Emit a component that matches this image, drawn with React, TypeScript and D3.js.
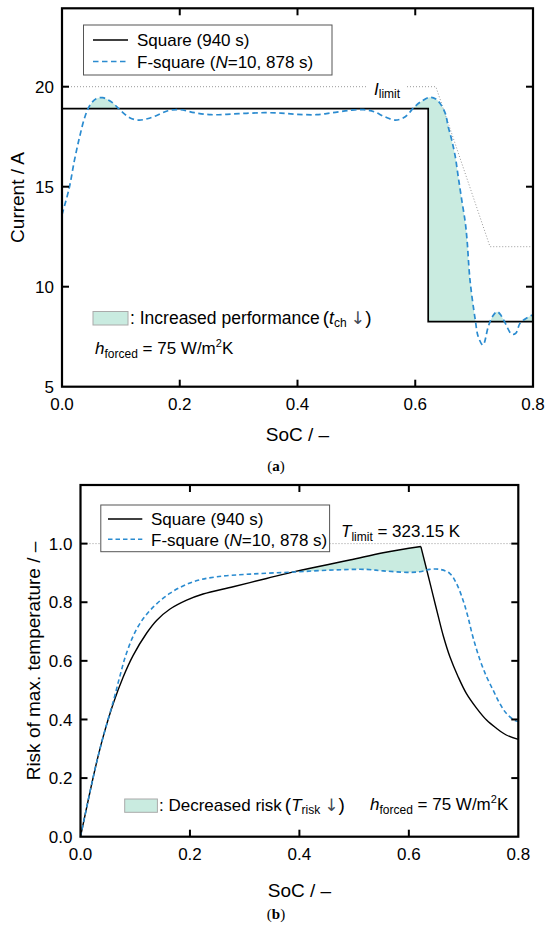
import React from 'react';
import * as d3 from 'd3';

// shared x axis
const socTicks = [0, 0.2, 0.4, 0.6, 0.8];

// (a) current vs SoC
const currentTicks = [5, 10, 15, 20];
const squareSocA = [0, 0.622, 0.622, 0.8];
const squareCurrent = [18.9, 18.9, 8.25, 8.25];
const fSquareSocA = [0, 0.012, 0.021, 0.03, 0.039, 0.048, 0.058, 0.069, 0.078, 0.087, 0.1, 0.115, 0.13, 0.145, 0.16, 0.18, 0.2, 0.225, 0.253, 0.28, 0.313, 0.345, 0.372, 0.4, 0.432, 0.46, 0.49, 0.512, 0.53, 0.548, 0.566, 0.583, 0.599, 0.612, 0.625, 0.635, 0.642, 0.651, 0.656, 0.662, 0.668, 0.673, 0.679, 0.685, 0.688, 0.693, 0.702, 0.707, 0.715, 0.724, 0.731, 0.739, 0.746, 0.753, 0.764, 0.771, 0.778, 0.79, 0.8];
const fSquareCurrent = [13.6, 14.9, 16.3, 17.5, 18.5, 19.1, 19.4, 19.45, 19.35, 19.17, 18.8, 18.45, 18.33, 18.4, 18.55, 18.8, 18.85, 18.7, 18.6, 18.62, 18.67, 18.7, 18.68, 18.62, 18.6, 18.7, 18.82, 18.85, 18.75, 18.5, 18.33, 18.5, 19.0, 19.3, 19.47, 19.38, 19.17, 18.67, 18.0, 17.33, 16.5, 15.5, 14.33, 13.2, 12.33, 10.33, 8.33, 7.5, 7.08, 8.0, 8.5, 8.75, 8.55, 8.17, 7.62, 7.68, 8.17, 8.45, 8.6];
const limitSoc = [0, 0.635, 0.727, 0.8];
const limitCurrent = [20, 20, 12, 12];

// (b) risk of max. temperature vs SoC
const riskTicks = [0, 0.2, 0.4, 0.6, 0.8, 1.0];
const squareSocB = [0, 0.017, 0.03, 0.042, 0.06, 0.078, 0.096, 0.121, 0.139, 0.163, 0.194, 0.224, 0.279, 0.34, 0.395, 0.492, 0.553, 0.622, 0.635, 0.644, 0.654, 0.663, 0.675, 0.69, 0.705, 0.724, 0.742, 0.76, 0.778, 0.8];
const squareRisk = [0, 0.15, 0.258, 0.345, 0.455, 0.545, 0.618, 0.695, 0.738, 0.776, 0.807, 0.828, 0.853, 0.881, 0.906, 0.944, 0.969, 0.99, 0.893, 0.825, 0.75, 0.685, 0.614, 0.546, 0.489, 0.438, 0.398, 0.37, 0.347, 0.332];
const fSquareSocB = [0, 0.017, 0.03, 0.042, 0.06, 0.072, 0.084, 0.103, 0.127, 0.163, 0.206, 0.249, 0.31, 0.389, 0.462, 0.523, 0.553, 0.596, 0.62, 0.638, 0.657, 0.675, 0.687, 0.699, 0.708, 0.717, 0.73, 0.742, 0.754, 0.766, 0.778, 0.794, 0.8];
const fSquareRisk = [0, 0.15, 0.258, 0.345, 0.462, 0.548, 0.626, 0.71, 0.772, 0.83, 0.87, 0.887, 0.896, 0.903, 0.91, 0.912, 0.907, 0.902, 0.904, 0.912, 0.912, 0.898, 0.864, 0.807, 0.75, 0.682, 0.603, 0.546, 0.5, 0.455, 0.421, 0.396, 0.393];
const riskLimit = 1.0;

const FONT = 'Liberation Sans, Arial, sans-serif';
const BLUE = '#2a8bd0';
const FILL = '#c9ebe0';
const ARROW = '#444a55';

type Pt = [number, number];
const zip = (a: number[], b: number[]) => a.map((v, i) => [v, b[i]] as Pt);

export default function App() {
  // ---- panel (a)
  const xa = d3.scaleLinear().domain([0, 0.8]).range([62, 533]);
  const ya = d3.scaleLinear().domain([5, 23.92]).range([386.7, 8.3]);
  const lineA = d3.line<Pt>().x(d => xa(d[0])).y(d => ya(d[1]));
  const curveA = d3.line<Pt>().x(d => xa(d[0])).y(d => ya(d[1])).curve(d3.curveCatmullRom);
  const areaA = d3.area<Pt>().x(d => xa(d[0])).y0(ya(5)).y1(d => ya(d[1])).curve(d3.curveCatmullRom);
  const sqA = zip(squareSocA, squareCurrent);
  const fA = zip(fSquareSocA, fSquareCurrent);
  const aboveSquareA = lineA(sqA) + `L${xa(0.8)},${ya.range()[1]}L${xa(0)},${ya.range()[1]}Z`;

  // ---- panel (b)
  const xb = d3.scaleLinear().domain([0, 0.8]).range([80.5, 518.3]);
  const yb = d3.scaleLinear().domain([0, 1.2]).range([836.7, 485]);
  const lineB = d3.line<Pt>().x(d => xb(d[0])).y(d => yb(d[1])).curve(d3.curveCatmullRom);
  const areaB = d3.area<Pt>().x(d => xb(d[0])).y0(yb(0)).y1(d => yb(d[1])).curve(d3.curveCatmullRom);
  const sqB = zip(squareSocB, squareRisk);
  // the square profile has a sharp corner at its maximum: draw it as two smooth pieces
  const peak = squareRisk.indexOf(d3.max(squareRisk) as number);
  const sqRise = sqB.slice(0, peak + 1);
  const sqFall = sqB.slice(peak);
  const fB = zip(fSquareSocB, fSquareRisk);
  const aboveFB = lineB(fB) + `L${xb(0.8)},${yb.range()[1]}L${xb(0)},${yb.range()[1]}Z`;

  const frame = (x: d3.ScaleLinear<number, number>, y: d3.ScaleLinear<number, number>, yt: number[], fmt: (v: number) => string) => {
    const [x0, x1] = x.range();
    const [y0, y1] = y.range();
    const tl = 7;
    return (
      <g>
        {socTicks.slice(1, -1).map(t => (
          <g key={'x' + t}>
            <line x1={x(t)} x2={x(t)} y1={y0} y2={y0 - tl} stroke="#000" strokeWidth={2} />
            <line x1={x(t)} x2={x(t)} y1={y1} y2={y1 + tl} stroke="#000" strokeWidth={2} />
          </g>
        ))}
        {yt.filter(t => y(t) < y0 - 1 && y(t) > y1 + 1).map(t => (
          <g key={'y' + t}>
            <line x1={x0} x2={x0 + tl} y1={y(t)} y2={y(t)} stroke="#000" strokeWidth={2} />
            <line x1={x1} x2={x1 - tl} y1={y(t)} y2={y(t)} stroke="#000" strokeWidth={2} />
          </g>
        ))}
        <rect x={x0} y={y1} width={x1 - x0} height={y0 - y1} fill="none" stroke="#000" strokeWidth={2.2} />
        {socTicks.map(t => (
          <text key={'xl' + t} x={x(t)} y={y0 + 23} textAnchor="middle" fontSize={17} fontFamily={FONT}>{t.toFixed(1)}</text>
        ))}
        {yt.map(t => (
          <text key={'yl' + t} x={x0 - 8} y={y(t)} dy="0.36em" textAnchor="end" fontSize={17} fontFamily={FONT}>{fmt(t)}</text>
        ))}
      </g>
    );
  };

  return (
    <svg width={550} height={930} style={{ position: 'absolute', left: 0, top: 0, background: '#fff' }}>
      <defs>
        <clipPath id="aboveSquareA"><path d={aboveSquareA} /></clipPath>
        <clipPath id="aboveFB"><path d={aboveFB} /></clipPath>
        <clipPath id="midB"><rect x={xb(0.35)} y={485} width={xb(0.7) - xb(0.35)} height={352} /></clipPath>
      </defs>

      {/* ===== (a) ===== */}
      <path d={areaA(fA) || ''} fill={FILL} clipPath="url(#aboveSquareA)" />
      <path d={lineA(zip(limitSoc, limitCurrent)) || ''} fill="none" stroke="#999" strokeWidth={1} strokeDasharray="1,2" />
      <rect x={368} y={79} width={38} height={22} fill="#fff" />
      <text x={374} y={95} fontSize={17} fontFamily={FONT}>
        <tspan fontStyle="italic">I</tspan>
        <tspan fontSize={12} dy={3}>limit</tspan>
      </text>
      <path d={lineA(sqA) || ''} fill="none" stroke="#000" strokeWidth={1.7} />
      <path d={curveA(fA) || ''} fill="none" stroke={BLUE} strokeWidth={1.7} strokeDasharray="5.5,3.5" />
      {frame(xa, ya, currentTicks, v => String(v))}

      <rect x={83.5} y={25} width={248.5} height={50} fill="#fff" stroke="#555" strokeWidth={1} />
      <line x1={93} x2={128} y1={40} y2={40} stroke="#000" strokeWidth={1.7} />
      <text x={137} y={46} fontSize={17} fontFamily={FONT}>Square (940 s)</text>
      <line x1={93} x2={128} y1={61.5} y2={61.5} stroke={BLUE} strokeWidth={1.7} strokeDasharray="5.5,3.5" />
      <text x={137} y={67.5} fontSize={17} fontFamily={FONT}>
        F-square (<tspan fontStyle="italic">N</tspan>=10, 878 s)
      </text>

      <rect x={93} y={311.5} width={35} height={13.5} fill={FILL} stroke="#aaa" strokeWidth={1} />
      <text x={130} y={324} fontSize={17.5} fontFamily={FONT}>
        : Increased performance
        <tspan fontSize={19} dx={3}>(</tspan>
        <tspan fontStyle="italic">t</tspan>
        <tspan fontSize={12} dy={3}>ch</tspan>
        <tspan dy={-3} dx={4} fill={ARROW} fontFamily="DejaVu Sans">↓</tspan>
        <tspan fontSize={19}>)</tspan>
      </text>
      <text x={95} y={354} fontSize={17} fontFamily={FONT}>
        <tspan fontStyle="italic">h</tspan>
        <tspan fontSize={12} dy={4}>forced</tspan>
        <tspan dy={-4}> = 75 W/m</tspan>
        <tspan fontSize={11} dy={-7}>2</tspan>
        <tspan dy={7}>K</tspan>
      </text>

      <text transform="translate(24,197.5) rotate(-90)" textAnchor="middle" fontSize={19} fontFamily={FONT}>Current / A</text>
      <text x={297.5} y={441} textAnchor="middle" fontSize={19} fontFamily={FONT}>SoC / –</text>
      <text x={276} y={471} textAnchor="middle" fontSize={15} fontFamily="Liberation Serif, serif">
        (<tspan fontWeight="bold">a</tspan>)
      </text>

      {/* ===== (b) ===== */}
      <g clipPath="url(#midB)">
        <g clipPath="url(#aboveFB)">
          <path d={areaB(sqRise) || ''} fill={FILL} />
          <path d={areaB(sqFall) || ''} fill={FILL} />
        </g>
      </g>
      <line x1={xb(0)} x2={xb(0.8)} y1={yb(riskLimit)} y2={yb(riskLimit)} stroke="#999" strokeWidth={1} strokeDasharray="1,2" />
      <path d={(lineB(sqRise) || '') + (lineB(sqFall) || '')} fill="none" stroke="#000" strokeWidth={1.4} strokeLinejoin="miter" />
      <path d={lineB(fB) || ''} fill="none" stroke={BLUE} strokeWidth={1.6} strokeDasharray="4.5,3" />
      {frame(xb, yb, riskTicks, v => v.toFixed(1))}

      <rect x={100.8} y={505} width={228.8} height={46.7} fill="#fff" stroke="#555" strokeWidth={1} />
      <line x1={108} x2={142.3} y1={519} y2={519} stroke="#000" strokeWidth={1.4} />
      <text x={151} y={525} fontSize={17} fontFamily={FONT}>Square (940 s)</text>
      <line x1={108} x2={142.3} y1={539.3} y2={539.3} stroke={BLUE} strokeWidth={1.6} strokeDasharray="4.5,3" />
      <text x={151} y={545.5} fontSize={17} fontFamily={FONT}>
        F-square (<tspan fontStyle="italic">N</tspan>=10, 878 s)
      </text>

      <text x={341} y={537} fontSize={17} fontFamily={FONT}>
        <tspan fontStyle="italic">T</tspan>
        <tspan fontSize={12} dy={4}>limit</tspan>
        <tspan dy={-4}> = 323.15 K</tspan>
      </text>

      <rect x={124.7} y={799} width={32.7} height={13.3} fill={FILL} stroke="#aaa" strokeWidth={1} />
      <text x={159} y={811} fontSize={17} fontFamily={FONT}>
        : Decreased risk
        <tspan fontSize={19} dx={3}>(</tspan>
        <tspan fontStyle="italic">T</tspan>
        <tspan fontSize={12} dy={3}>risk</tspan>
        <tspan dy={-3} dx={4} fill={ARROW} fontFamily="DejaVu Sans">↓</tspan>
        <tspan fontSize={19}>)</tspan>
      </text>
      <text x={370} y={810} fontSize={17} fontFamily={FONT}>
        <tspan fontStyle="italic">h</tspan>
        <tspan fontSize={12} dy={4}>forced</tspan>
        <tspan dy={-4}> = 75 W/m</tspan>
        <tspan fontSize={11} dy={-7}>2</tspan>
        <tspan dy={7}>K</tspan>
      </text>

      <text transform="translate(40,661) rotate(-90)" textAnchor="middle" fontSize={19} fontFamily={FONT}>Risk of max. temperature / –</text>
      <text x={299.4} y={897} textAnchor="middle" fontSize={19} fontFamily={FONT}>SoC / –</text>
      <text x={276} y={919} textAnchor="middle" fontSize={15} fontFamily="Liberation Serif, serif">
        (<tspan fontWeight="bold">b</tspan>)
      </text>
    </svg>
  );
}
